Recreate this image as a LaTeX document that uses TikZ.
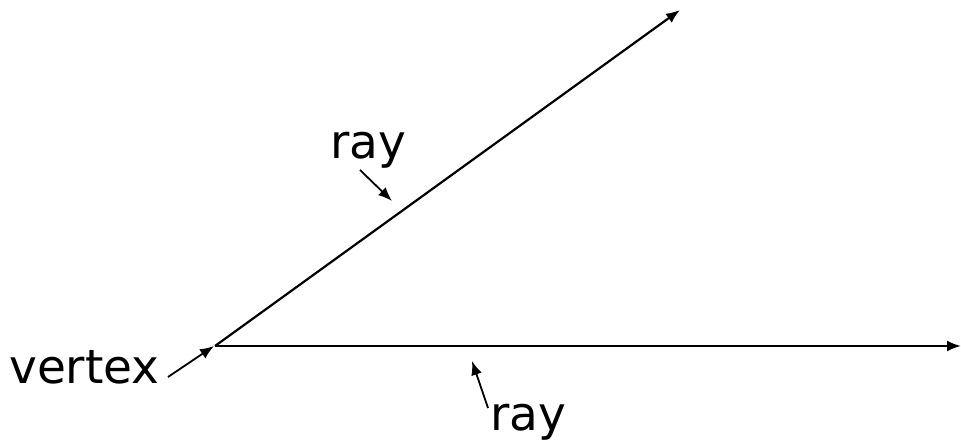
\documentclass[tikz,border=0pt]{standalone}
\usepackage{fontspec}
\setmainfont{DejaVu Sans}
\usetikzlibrary{arrows.meta}
\begin{document}
\begin{tikzpicture}[x=1pt,y=-1pt,
  rayline/.style={line width=2.2pt,-{Latex[length=14pt,width=11pt]}},
  pointer/.style={line width=1.8pt,-{Latex[length=14pt,width=11pt]}},
  lbl/.style={inner sep=0pt,font=\fontsize{47}{52}\selectfont}]
\useasboundingbox (0,0) rectangle (961,442);
\coordinate (V) at (215,346);
\coordinate (T1) at (680,10);
\coordinate (T2) at (961,346);
\draw[rayline] (V) -- (T1);
\draw[rayline] (V) -- (T2);
\node[lbl,anchor=base west] (vlab) at (9,383) {vertex};
\node[lbl,anchor=base west] (r1lab) at (330,158) {ray};
\node[lbl,anchor=base west] (r2lab) at (490,430) {ray};
\coordinate (vs) at (168,377);
\coordinate (vt) at (214,346);
\coordinate (r1s) at (360,170);
\coordinate (r1t) at (392,201);
\coordinate (r2s) at (488,408);
\coordinate (r2t) at (472,361);
\draw[pointer] (vs) -- (vt);
\draw[pointer] (r1s) -- (r1t);
\draw[pointer] (r2s) -- (r2t);
\end{tikzpicture}
\end{document}
